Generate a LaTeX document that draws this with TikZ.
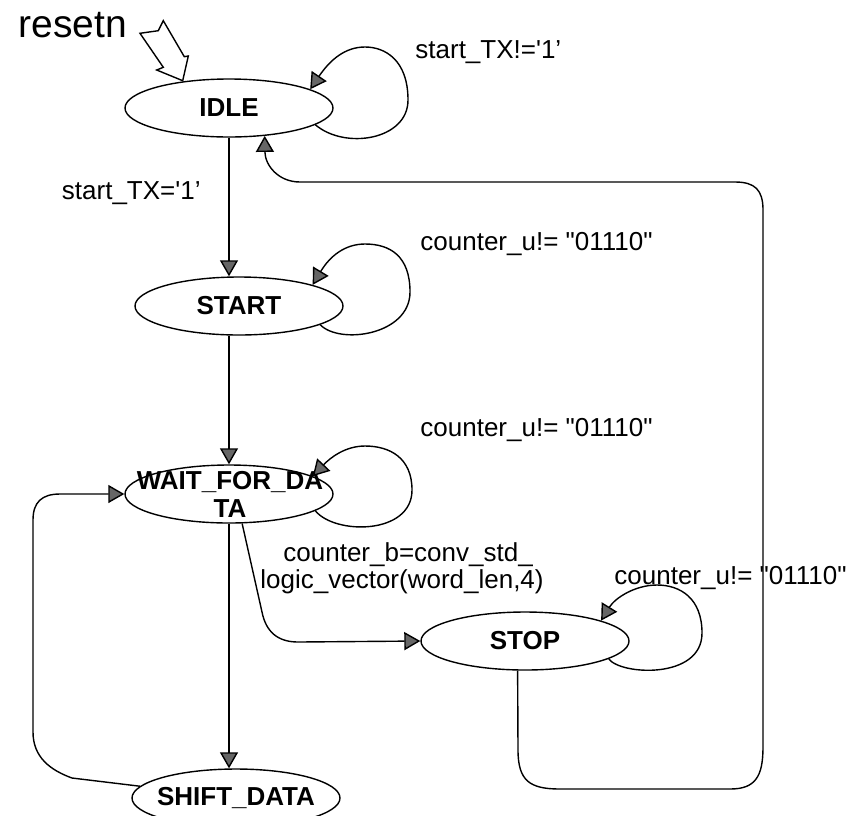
\documentclass[tikz,border=0pt]{standalone}
\usepackage{fontspec}
\setmainfont{Liberation Sans}
\usetikzlibrary{shapes.geometric,arrows.meta}
\begin{document}
\begin{tikzpicture}[x=0.5pt,y=-0.5pt,
  state/.style={ellipse,draw,line width=0.7pt,minimum width=104pt,minimum height=29pt,inner sep=0pt},
  stxt/.style={inner sep=0pt,align=center,font=\fontsize{13}{14}\selectfont\bfseries},
  lbl/.style={anchor=base west,inner sep=0pt,font=\fontsize{13}{15}\selectfont},
  conn/.style={line width=0.7pt,-{Triangle[width=9pt,length=8pt,fill=black!60]}},
  outline/.style={line width=0.7pt}]
\useasboundingbox (0,0) rectangle (860,815);

% states
\node[state] (IDLE) at (229,108) {};
\node[stxt] (IDLEt) at (IDLE) {IDLE};
\node[state] (START) at (239,306) {};
\node[stxt] (STARTt) at (START) {START};
\node[state] (WAIT) at (229,494) {};
\node[stxt] (WAITt) at (230,494) {WAIT\_FOR\_DA\\TA};
\node[state] (STOP) at (525,641) {};
\node[stxt] (STOPt) at (STOP) {STOP};
\node[state] (SHIFT) at (236,798) {};
\node[stxt] (SHIFTt) at (SHIFT) {SHIFT\_DATA};

% reset
\node[anchor=base west,inner sep=0pt,font=\fontsize{19.5}{22}\selectfont] (resetn) at (18,37) {resetn};
\draw[outline] (140,33.3) -- (158.3,30.7) -- (163.3,20.7) -- (184.3,56.7) -- (188.3,56)
  -- (182.7,80.7) -- (156.7,70) -- (163.3,67.3) -- cycle;

% straight transitions
\draw[conn] (IDLE.south) -- (IDLE.south |- START.north);
\draw[conn] (START.south -| WAIT.north) -- (WAIT.north);
\draw[conn] (WAIT.south) -- (WAIT.south |- SHIFT.north);

% self loops
\draw[conn] (IDLE.-11) .. controls (345,150) and (408,140) .. (408,100)
  .. controls (408,60) and (385,47) .. (365,47) .. controls (345,47) and (330,60) .. (IDLE.13);
\draw[conn] (START.-13) .. controls (340,345) and (410,335) .. (410,292)
  .. controls (410,256) and (390,244) .. (365,244) .. controls (345,244) and (330,256) .. (START.16);
\draw[conn] (WAIT.-11) .. controls (335,535) and (412,535) .. (412,490)
  .. controls (412,458) and (390,446) .. (365,446) .. controls (345,446) and (330,458) .. (WAIT.12);
\draw[conn] (STOP.-12) .. controls (620,675) and (702,680) .. (702,633)
  .. controls (702,598) and (680,585) .. (657,585) .. controls (635,585) and (615,598) .. (STOP.15);

% WAIT -> STOP
\draw[conn] (WAIT.-66) -- (262,612) .. controls (266,632) and (278,642) .. (298,642) -- (STOP.west);

% SHIFT -> WAIT
\draw[conn] (SHIFT.173) -- (72,778) .. controls (50,770) and (33,757) .. (33,732) -- (33,520)
  .. controls (33,502) and (42,494) .. (60,494) -- (WAIT.west);

% STOP -> IDLE
\draw[conn] (STOP.-104) -- (518,750) .. controls (518,781) and (530,789) .. (560,789) -- (730,789)
  .. controls (755,789) and (763,777) .. (763,747) -- (763,210)
  .. controls (763,190) and (755,182) .. (735,182) -- (300,182)
  .. controls (278,182) and (265,165) .. (IDLE.-38);

% labels
\node[lbl] (l1) at (415,58) {start\_TX!=\textquotesingle 1’};
\node[lbl,anchor=base east] (l2) at (201,199) {start\_TX=\textquotesingle 1’};
\node[lbl] (l3) at (420,250) {counter\_u!= \textquotedbl 01110\textquotedbl};
\node[lbl] (l4) at (420,436) {counter\_u!= \textquotedbl 01110\textquotedbl};
\node[lbl] (l5) at (283,561) {counter\_b=conv\_std\_};
\node[lbl] (l6) at (260,588) {logic\_vector(word\_len,4)};
\node[lbl] (l7) at (614,584) {counter\_u!= \textquotedbl 01110\textquotedbl};
\end{tikzpicture}
\end{document}
